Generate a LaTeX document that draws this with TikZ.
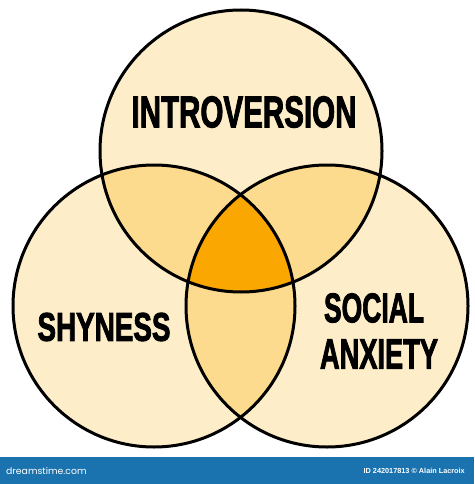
\documentclass[tikz,border=0pt]{standalone}
\usepackage{fontspec}
\usepackage{graphicx}
\setmainfont{Liberation Sans}
\newfontfamily\heavyfont[FakeBold=2.5]{Liberation Sans Bold}
\newfontfamily\poppinsfont{Poppins}
\definecolor{cream}{HTML}{FEEDC9}
\definecolor{midfill}{HTML}{FDDB8E}
\definecolor{corefill}{HTML}{FAA701}
\definecolor{barblue}{HTML}{1A72AE}
\begin{document}
\begin{tikzpicture}[x=1pt,y=-1pt,
  ring/.style={draw=black,line width=3pt},
  lbl/.style={inner sep=0pt,text=black}]
\useasboundingbox (0,0) rectangle (474,484);
\fill[white] (0,0) rectangle (474,484);
\def\R{141}
\coordinate (T) at (241,151);
\coordinate (L) at (154,306);
\coordinate (Rt) at (327,306);
% base fills
\fill[cream] (T) circle (\R);
\fill[cream] (L) circle (\R);
\fill[cream] (Rt) circle (\R);
% pairwise overlaps
\begin{scope}\clip (T) circle (\R); \fill[midfill] (L) circle (\R); \end{scope}
\begin{scope}\clip (T) circle (\R); \fill[midfill] (Rt) circle (\R); \end{scope}
\begin{scope}\clip (L) circle (\R); \fill[midfill] (Rt) circle (\R); \end{scope}
% triple overlap
\begin{scope}\clip (T) circle (\R); \clip (L) circle (\R); \fill[corefill] (Rt) circle (\R); \end{scope}
% outlines
\draw[ring] (T) circle (\R);
\draw[ring] (L) circle (\R);
\draw[ring] (Rt) circle (\R);
% labels
\node[lbl] (intro) at (244,112) {\resizebox{225pt}{31pt}{\heavyfont INTROVERSION}};
\node[lbl] (shy) at (104,327) {\resizebox{133pt}{28pt}{\heavyfont SHYNESS}};
\node[lbl] (social) at (374,308) {\resizebox{100pt}{29pt}{\heavyfont SOCIAL}};
\node[lbl] (anx) at (379,354) {\resizebox{118pt}{29pt}{\heavyfont ANXIETY}};
% bottom bar
\fill[barblue] (0,457) rectangle (474,484);
\node[lbl,anchor=west,text=white] (brand) at (6,471) {\poppinsfont\fontsize{9.3}{10}\selectfont dreamstime.com};
\node[lbl,anchor=east,text=white] (credit) at (465,471) {\bfseries\fontsize{7.3}{8}\selectfont ID 242017813 \textcopyright\ Alain Lacroix};
\end{tikzpicture}
\end{document}
